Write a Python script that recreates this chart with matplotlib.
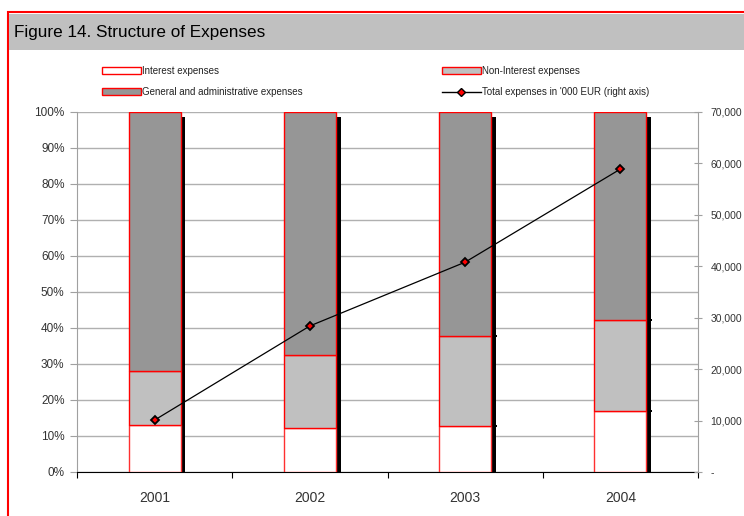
import numpy as np
import matplotlib.pyplot as plt
from matplotlib.patches import Rectangle, Patch
from matplotlib.lines import Line2D
from matplotlib.ticker import FuncFormatter, MultipleLocator

plt.rcParams['font.family'] = ['Liberation Sans', 'DejaVu Sans']

years = ['2001', '2002', '2003', '2004']
interest = [13.0, 12.2, 12.8, 17.0]          # % of total
non_interest = [15.0, 20.3, 25.0, 25.2]      # % of total
gen_admin = [72.0, 67.5, 62.2, 57.8]         # % of total
total_eur = [10100, 28400, 40800, 58900]     # '000 EUR

x = np.arange(len(years))
w = 0.335

fig = plt.figure(figsize=(7.44, 5.16), dpi=100)

# frame + title band
fig.patches.append(Rectangle((8/744, -0.1), 1.2, 0.1 + 1 - 12/516, transform=fig.transFigure,
                             fill=False, edgecolor='#ff0000', linewidth=1.5, zorder=0))
fig.patches.append(Rectangle((9/744, 1 - 50/516), 1.2, 36/516, transform=fig.transFigure,
                             facecolor='#c0c0c0', edgecolor='none', zorder=0))
fig.text(14/744, 1 - 33/516, 'Figure 14. Structure of Expenses', fontsize=12.3,
         va='center', ha='left', color='black')

ax = fig.add_axes([77/744, 1 - 472/516, 621/744, 360/516])

bottom2 = np.array(interest)
bottom3 = bottom2 + np.array(non_interest)
ax.bar(x, interest, w, color='white', edgecolor='#ff3030', linewidth=1, zorder=3)
ax.bar(x, non_interest, w, bottom=bottom2, color='#c0c0c0', edgecolor='#ff0000', linewidth=1, zorder=3)
ax.bar(x, gen_admin, w, bottom=bottom3, color='#969696', edgecolor='#ff0000', linewidth=1, zorder=3)
# dark side of the bars
ax.bar(x + w/2 + 0.016, 98.6, 0.03, color='black', linewidth=0, zorder=2)
for i in [2, 3]:
    for b in [bottom2[i], bottom3[i]]:
        ax.bar(x[i] + w/2 + 0.03, 0.6, 0.012, bottom=b - 0.3, color='black', linewidth=0, zorder=2)

ax.set_xlim(-0.5, 3.5)
ax.set_ylim(0, 100)
ax.yaxis.set_major_locator(MultipleLocator(10))
ax.yaxis.set_major_formatter(FuncFormatter(lambda v, p: '%d%%' % v))
ax.yaxis.grid(True, color='#b0b0b0', linewidth=1, zorder=0)
ax.set_xticks(np.arange(-0.5, 4, 1))
ax.set_xticklabels([])
ax.set_xticks(x, minor=True)
ax.set_xticklabels(years, minor=True, fontsize=10, color='#333333')
ax.tick_params(axis='x', which='minor', length=0, pad=14)
ax.tick_params(axis='x', which='major', length=4, direction='out', color='black')
ax.tick_params(axis='y', length=5, color='#a0a0a0', labelsize=8.5, labelcolor='#333333', pad=4)
for s in ['top', 'right']:
    ax.spines[s].set_visible(False)
ax.spines['left'].set_color('#a0a0a0')
ax.spines['bottom'].set_color('black')

ax2 = ax.twinx()
ax2.plot(x, total_eur, color='black', linewidth=0.9, marker='D', markersize=4.5,
         markerfacecolor='#ff0000', markeredgecolor='black', markeredgewidth=1.3, zorder=5)
ax2.set_ylim(0, 70000)
ax2.yaxis.set_major_locator(MultipleLocator(10000))
ax2.yaxis.set_major_formatter(FuncFormatter(lambda v, p: '-' if v == 0 else '{:,.0f}'.format(v)))
ax2.tick_params(axis='y', length=6, direction='inout', color='#a0a0a0', labelsize=7.5,
                labelcolor='#333333', pad=6)
for s in ['top', 'left', 'bottom']:
    ax2.spines[s].set_visible(False)
ax2.spines['right'].set_color('#a0a0a0')

h_int = Patch(facecolor='white', edgecolor='#ff0000', label='Interest expenses')
h_non = Patch(facecolor='#c0c0c0', edgecolor='#ff0000', label='Non-Interest expenses')
h_ga = Patch(facecolor='#969696', edgecolor='#ff0000', label='General and administrative expenses')
h_tot = Line2D([], [], color='black', linewidth=1, marker='D', markersize=4,
               markerfacecolor='#ff0000', markeredgecolor='black',
               label="Total expenses in '000 EUR (right axis)")

kw = dict(frameon=False, fontsize=7, handlelength=4, handleheight=0.7, handletextpad=0.1,
          labelspacing=1.15, borderaxespad=0, borderpad=0, labelcolor='#222222')
fig.legend(handles=[h_int, h_ga], loc='upper left', bbox_to_anchor=(102/744, 1 - 66/516), **kw)
fig.legend(handles=[h_non, h_tot], loc='upper left', bbox_to_anchor=(442/744, 1 - 66/516), **kw)

fig.savefig('out.png', dpi=100)
